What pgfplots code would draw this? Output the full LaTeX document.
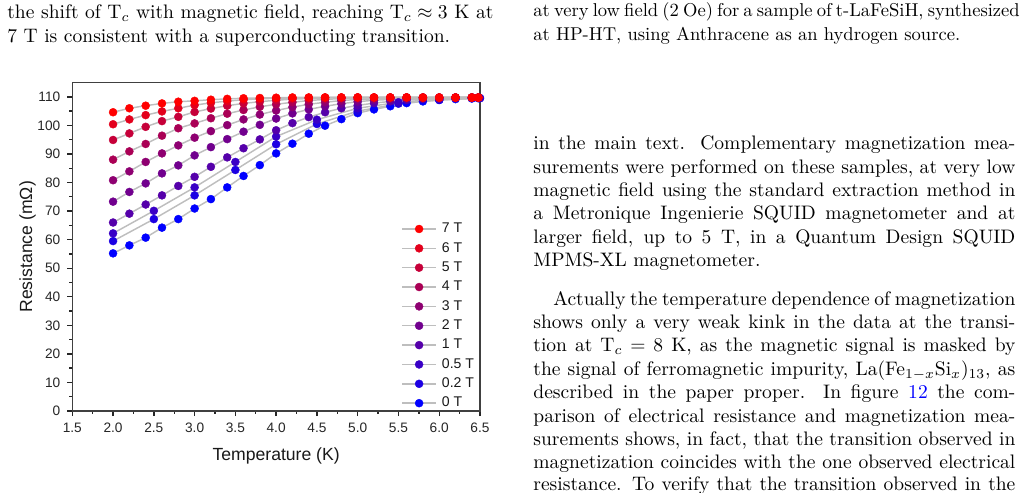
\documentclass[border=0pt]{standalone}
\usepackage{fontspec}
\usepackage{xcolor}
\usepackage{pgfplots}
\pgfplotsset{compat=1.18}
\newfontfamily\chartfont{Liberation Sans}
\definecolor{c0}{RGB}{0,0,255}
\definecolor{c1}{RGB}{28,0,227}
\definecolor{c2}{RGB}{57,0,198}
\definecolor{c3}{RGB}{85,0,170}
\definecolor{c4}{RGB}{113,0,142}
\definecolor{c5}{RGB}{142,0,113}
\definecolor{c6}{RGB}{170,0,85}
\definecolor{c7}{RGB}{198,0,57}
\definecolor{c8}{RGB}{227,0,28}
\definecolor{c9}{RGB}{255,0,0}
\definecolor{linegray}{RGB}{190,190,190}
\newcommand{\J}[4]{\node[anchor=base west,inner sep=0pt,font=\fontsize{10}{12}\selectfont] at (#1,#2) {\makebox[#3][s]{#4}};}
\newcommand{\Lst}[3]{\node[anchor=base west,inner sep=0pt,font=\fontsize{10}{12}\selectfont] at (#1,#2) {#3};}
\newcommand{\Jc}[4]{\node[anchor=base west,inner sep=0pt,font=\fontsize{9.5}{11.5}\selectfont] at (#1,#2) {\makebox[#3][s]{#4}};}
\newcommand{\Lc}[3]{\node[anchor=base west,inner sep=0pt,font=\fontsize{9.5}{11.5}\selectfont] at (#1,#2) {#3};}
\begin{document}
\begin{tikzpicture}
\clip[use as bounding box] (0pt,0pt) rectangle (526.34pt,-251.66pt);
\begin{scope}[x=0.51151pt,y=-0.51151pt]
% left column
\J{7}{19}{248.6pt}{the shift of T$_c$ with magnetic field, reaching T$_c\approx 3$ K at}
\Lst{7}{42}{7 T is consistent with a superconducting transition.}
% right column
\Jc{533}{17}{245.5pt}{at very low field (2 Oe) for a sample of t-LaFeSiH, synthesized}
\Lc{533}{40}{at HP-HT, using Anthracene as an hydrogen source.}
\J{533}{149.6}{246.55pt}{in the main text. Complementary magnetization mea-}
\J{533}{173}{246.55pt}{surements were performed on these samples, at very low}
\J{533}{196.4}{246.55pt}{magnetic field using the standard extraction method in}
\J{533}{219.8}{246.55pt}{a Metronique Ingenierie SQUID magnetometer and at}
\J{533}{243.2}{246.55pt}{larger field, up to 5 T, in a Quantum Design SQUID}
\Lst{533}{266.6}{MPMS-XL magnetometer.}
\J{553}{305}{236.3pt}{Actually the temperature dependence of magnetization}
\J{533}{328.4}{246.55pt}{shows only a very weak kink in the data at the transi-}
\J{533}{351.8}{246.55pt}{tion at T$_c=8$ K, as the magnetic signal is masked by}
\J{533}{375.2}{246.55pt}{the signal of ferromagnetic impurity, La(Fe$_{1-x}$Si$_x$)$_{13}$, as}
\J{533}{398.6}{246.55pt}{described in the paper proper. In figure {\color{blue}12} the com-}
\J{533}{422}{246.55pt}{parison of electrical resistance and magnetization mea-}
\J{533}{445.4}{246.55pt}{surements shows, in fact, that the transition observed in}
\J{533}{468.8}{246.55pt}{magnetization coincides with the one observed electrical}
\J{533}{490.5}{246.55pt}{resistance. To verify that the transition observed in the}
\end{scope}
\begin{axis}[
  at={(36.98pt,-210.23pt)}, anchor=south west,
  scale only axis, width=208.54pt, height=168.0pt,
  xmin=1.5, xmax=6.5, ymin=0, ymax=115,
  xtick={1.5,2,...,6.5}, ytick={0,10,...,110},
  minor x tick num=1, minor y tick num=1,
  tick align=outside, tick pos=left,
  major tick length=2.6pt, minor tick length=1.5pt,
  axis line style={black!75, line width=0.8pt},
  tick style={black!85, line width=0.7pt},
  clip=false,
  ticklabel style={font=\chartfont\fontsize{7}{8}\selectfont, text=black!85},
  /pgf/number format/assume math mode=true,
  x tick label style={/pgf/number format/.cd, fixed, fixed zerofill, precision=1, /tikz/.cd},
  label style={font=\chartfont\fontsize{9}{10}\selectfont, text=black!90},
  xlabel={Temperature (K)}, ylabel={Resistance (mΩ)},
  xlabel style={at={(axis description cs:0.5,0)}, anchor=base, yshift=-25.1pt},
  ylabel style={at={(axis description cs:0,0.5)}, anchor=base, yshift=20.6pt},
  myplot/.style={draw=linegray, line width=0.75pt, mark=*, mark size=2.05pt,
    mark options={solid, fill=#1, draw=#1, line width=0.2pt}},
  legend image code/.code={\draw[mark repeat=2,mark phase=2] plot coordinates {(0pt,0pt) (8.7pt,0pt) (17.4pt,0pt)};},
  reverse legend, legend cell align=left,
  legend style={draw=none, fill=none, font=\chartfont\fontsize{7.2}{8}\selectfont, text=black!90,
    at={(axis cs:5.531,66.2)}, anchor=north west, inner sep=0pt, row sep=3.1pt,
    nodes={inner sep=0pt, text height=5.3pt, text depth=1.5pt},
    /tikz/every odd column/.style={column sep=2.6pt}},
]
% 0 T
\addplot[myplot=c0] coordinates {
(2.0,55.2) (2.2,58.0) (2.4,60.7) (2.6,64.2) (2.8,67.2) (3.0,70.9) (3.2,74.2) (3.4,78.3)
(3.6,82.3) (3.8,86.1) (4.0,90.2) (4.2,93.6) (4.4,97.1) (4.6,99.9) (4.8,102.2) (5.0,104.3)
(5.2,105.6) (5.4,106.7) (5.6,107.8) (5.8,108.4) (6.0,108.9) (6.2,109.2) (6.4,109.4) (6.48,109.5)};
\addlegendentry{0 T}
% 0.2 T
\addplot[myplot=c1] coordinates {
(2.0,59.5) (2.5,67.2) (3.0,75.5) (3.5,84.4) (4.0,93.4) (4.5,100.5) (5.0,105.0) (5.5,107.6) (6.0,108.9) (6.5,109.5)};
\addlegendentry{0.2 T}
% 0.5 T
\addplot[myplot=c2] coordinates {
(2.0,62.2) (2.5,70.1) (3.0,78.3) (3.5,87.2) (4.0,96.1) (4.5,102.0) (5.0,106.0) (5.5,108.1) (6.0,109.2) (6.5,109.6)};
\addlegendentry{0.5 T}
% 1 T
\addplot[myplot=c3] coordinates {
(2.0,66.0) (2.2,69.1) (2.4,72.3) (2.6,75.5) (2.8,78.8) (3.0,82.0) (3.2,85.5) (3.4,88.8)
(3.6,92.0) (3.8,95.1) (4.0,98.3) (4.2,100.8) (4.4,102.9) (4.6,104.6) (4.8,106.0) (5.0,107.0)
(5.2,107.8) (5.4,108.4) (5.6,108.9) (5.8,109.2) (6.0,109.4) (6.2,109.5) (6.4,109.6) (6.48,109.6)};
\addlegendentry{1 T}
% 2 T
\addplot[myplot=c4] coordinates {
(2.0,73.3) (2.2,76.7) (2.4,79.7) (2.6,83.2) (2.8,86.0) (3.0,89.5) (3.2,92.4) (3.4,95.2)
(3.6,97.8) (3.8,100.2) (4.0,102.4) (4.2,104.2) (4.4,105.6) (4.6,106.7) (4.8,107.6) (5.0,108.3)
(5.2,108.8) (5.4,109.1) (5.6,109.4) (5.8,109.5) (6.0,109.6) (6.2,109.7) (6.4,109.7) (6.48,109.7)};
\addlegendentry{2 T}
% 3 T
\addplot[myplot=c5] coordinates {
(2.0,80.8) (2.2,83.9) (2.4,87.2) (2.6,90.2) (2.8,93.0) (3.0,95.7) (3.2,98.0) (3.4,100.1)
(3.6,102.1) (3.8,103.8) (4.0,105.2) (4.2,106.4) (4.4,107.4) (4.6,108.1) (4.8,108.7) (5.0,109.1)
(5.2,109.3) (5.4,109.5) (5.6,109.6) (5.8,109.7) (6.0,109.7) (6.2,109.8) (6.4,109.8) (6.48,109.8)};
\addlegendentry{3 T}
% 4 T
\addplot[myplot=c6] coordinates {
(2.0,88.0) (2.2,90.9) (2.4,93.5) (2.6,96.4) (2.8,99.0) (3.0,100.7) (3.2,102.5) (3.4,104.1)
(3.6,105.4) (3.8,106.5) (4.0,107.4) (4.2,108.1) (4.4,108.7) (4.6,109.1) (4.8,109.4) (5.0,109.6)
(5.2,109.7) (5.4,109.7) (5.6,109.8) (5.8,109.8) (6.0,109.8) (6.2,109.8) (6.4,109.8) (6.48,109.8)};
\addlegendentry{4 T}
% 5 T
\addplot[myplot=c7] coordinates {
(2.0,94.9) (2.2,97.2) (2.4,99.5) (2.6,101.5) (2.8,103.0) (3.0,104.7) (3.2,105.9) (3.4,106.9)
(3.6,107.7) (3.8,108.3) (4.0,108.8) (4.2,109.2) (4.4,109.4) (4.6,109.6) (4.8,109.7) (5.0,109.8)
(5.2,109.8) (5.4,109.8) (5.6,109.8) (5.8,109.8) (6.0,109.8) (6.2,109.8) (6.4,109.8) (6.48,109.8)};
\addlegendentry{5 T}
% 6 T
\addplot[myplot=c8] coordinates {
(2.0,100.4) (2.2,102.1) (2.4,103.6) (2.6,104.9) (2.8,106.0) (3.0,107.1) (3.2,107.9) (3.4,108.5)
(3.6,109.0) (3.8,109.3) (4.0,109.5) (4.2,109.6) (4.4,109.7) (4.6,109.8) (4.8,109.8) (5.0,109.8)
(5.2,109.8) (5.4,109.8) (5.6,109.8) (5.8,109.8) (6.0,109.8) (6.2,109.8) (6.4,109.8) (6.48,109.8)};
\addlegendentry{6 T}
% 7 T
\addplot[myplot=c9] coordinates {
(2.0,104.6) (2.2,106.0) (2.4,106.9) (2.6,107.7) (2.8,108.3) (3.0,108.6) (3.2,109.0) (3.4,109.3)
(3.6,109.5) (3.8,109.6) (4.0,109.7) (4.2,109.8) (4.4,109.8) (4.6,109.8) (4.8,109.8) (5.0,109.8)
(5.2,109.8) (5.4,109.8) (5.6,109.8) (5.8,109.7) (6.0,109.7) (6.2,109.7) (6.4,109.7) (6.48,109.7)};
\addlegendentry{7 T}
\end{axis}
\end{tikzpicture}
\end{document}
